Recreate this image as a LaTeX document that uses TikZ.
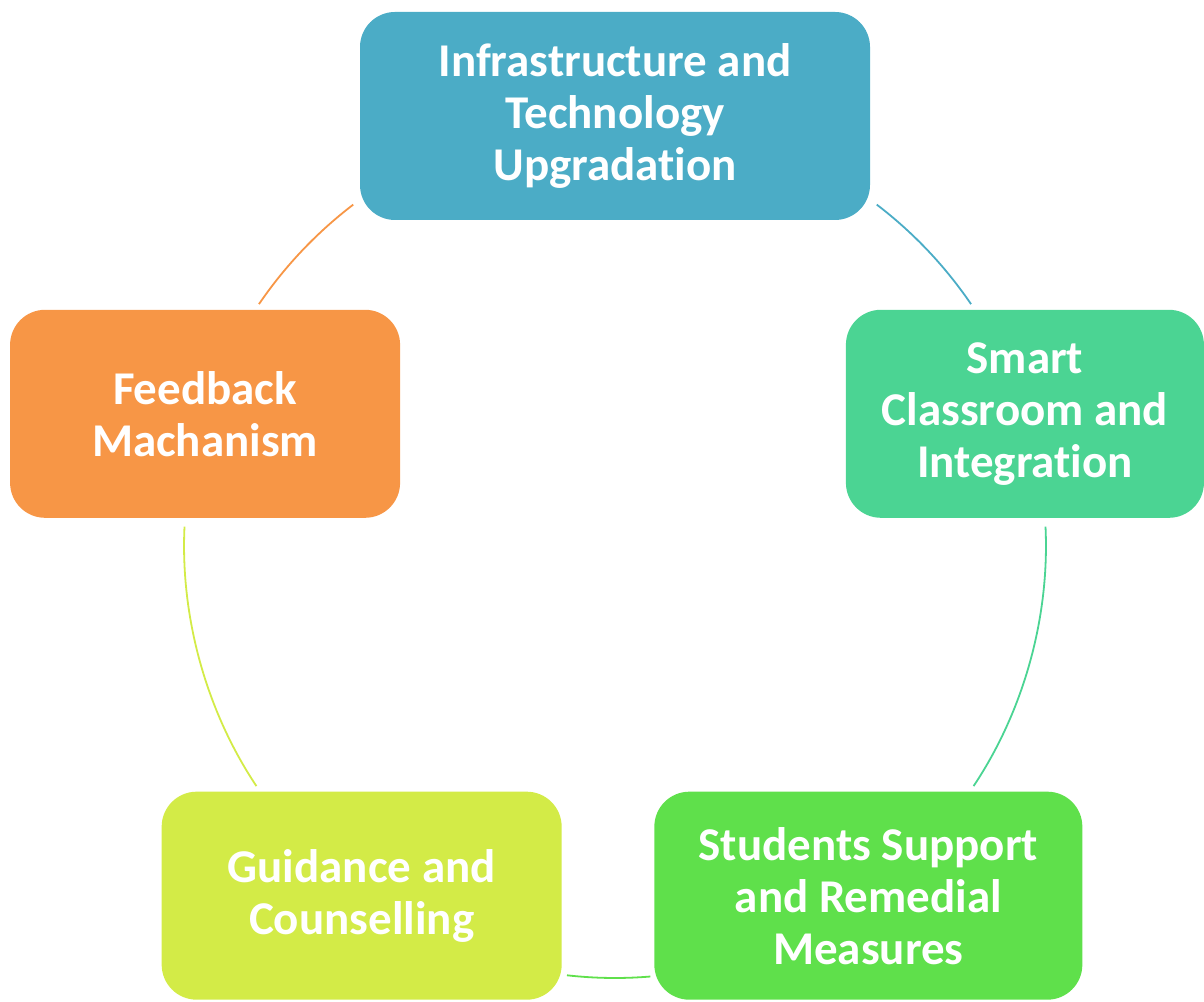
\documentclass[tikz,border=0pt]{standalone}
\usepackage{fontspec}
\setmainfont{Carlito}[Ligatures = NoCommon]
\definecolor{infraBlue}{HTML}{4BACC6}
\definecolor{smartGreen}{HTML}{4BD493}
\definecolor{supportGreen}{HTML}{5FE04B}
\definecolor{guideLime}{HTML}{D3EB47}
\definecolor{feedOrange}{HTML}{F79646}

\begin{document}
\begin{tikzpicture}[x = 1pt, y = 1pt,
  box/.style = {rounded corners = 35pt, minimum width = #1, minimum height = 208pt,
    inner sep = 0pt, align = center, text = white,
    font = \fontsize{47}{52}\selectfont\bfseries},
  link/.style = {draw = #1, line width = 1.8pt, looseness = 0.86}]
\useasboundingbox (0,0) rectangle (1204,1001);
\coordinate (c) at (615,454);

\node[box = 510pt, fill = infraBlue] (infra) at ([shift = {(90:431)}]c) {Infrastructure and\\Technology\\Upgradation};
\node[box = 358pt, fill = smartGreen] (smart) at ([shift = {(18:431)}]c) {Smart\\Classroom and\\Integration};
\node[box = 428pt, fill = supportGreen] (support) at ([shift = {(-54:431)}]c) {Students Support\\and Remedial\\Measures};
\node[box = 400pt, fill = guideLime] (guide) at ([shift = {(-126:431)}]c) {Guidance and\\Counselling};
\node[box = 390pt, fill = feedOrange] (feed) at ([shift = {(162:431)}]c) {Feedback\\Machanism};

\foreach \name/\ang in {infra_out/52.6, smart_in/34.3, smart_out/2.7, support_in/-33.7,
    support_out/-85.3, guide_in/-96.4, guide_out/-146.3, feed_in/177.3,
    feed_out/145.7, infra_in/127.4}
  \coordinate (\name) at ([shift = {(\ang:431)}]c);

\path (infra_out) edge [link = infraBlue, bend left = 9.15] (smart_in)
    (smart_out) edge [link = smartGreen, bend left = 18.2] (support_in)
    (support_out) edge [link = supportGreen, bend left = 5.55] (guide_in)
    (guide_out) edge [link = guideLime, bend left = 18.2] (feed_in)
    (feed_out) edge [link = feedOrange, bend left = 9.15] (infra_in);
\end{tikzpicture}
\end{document}
